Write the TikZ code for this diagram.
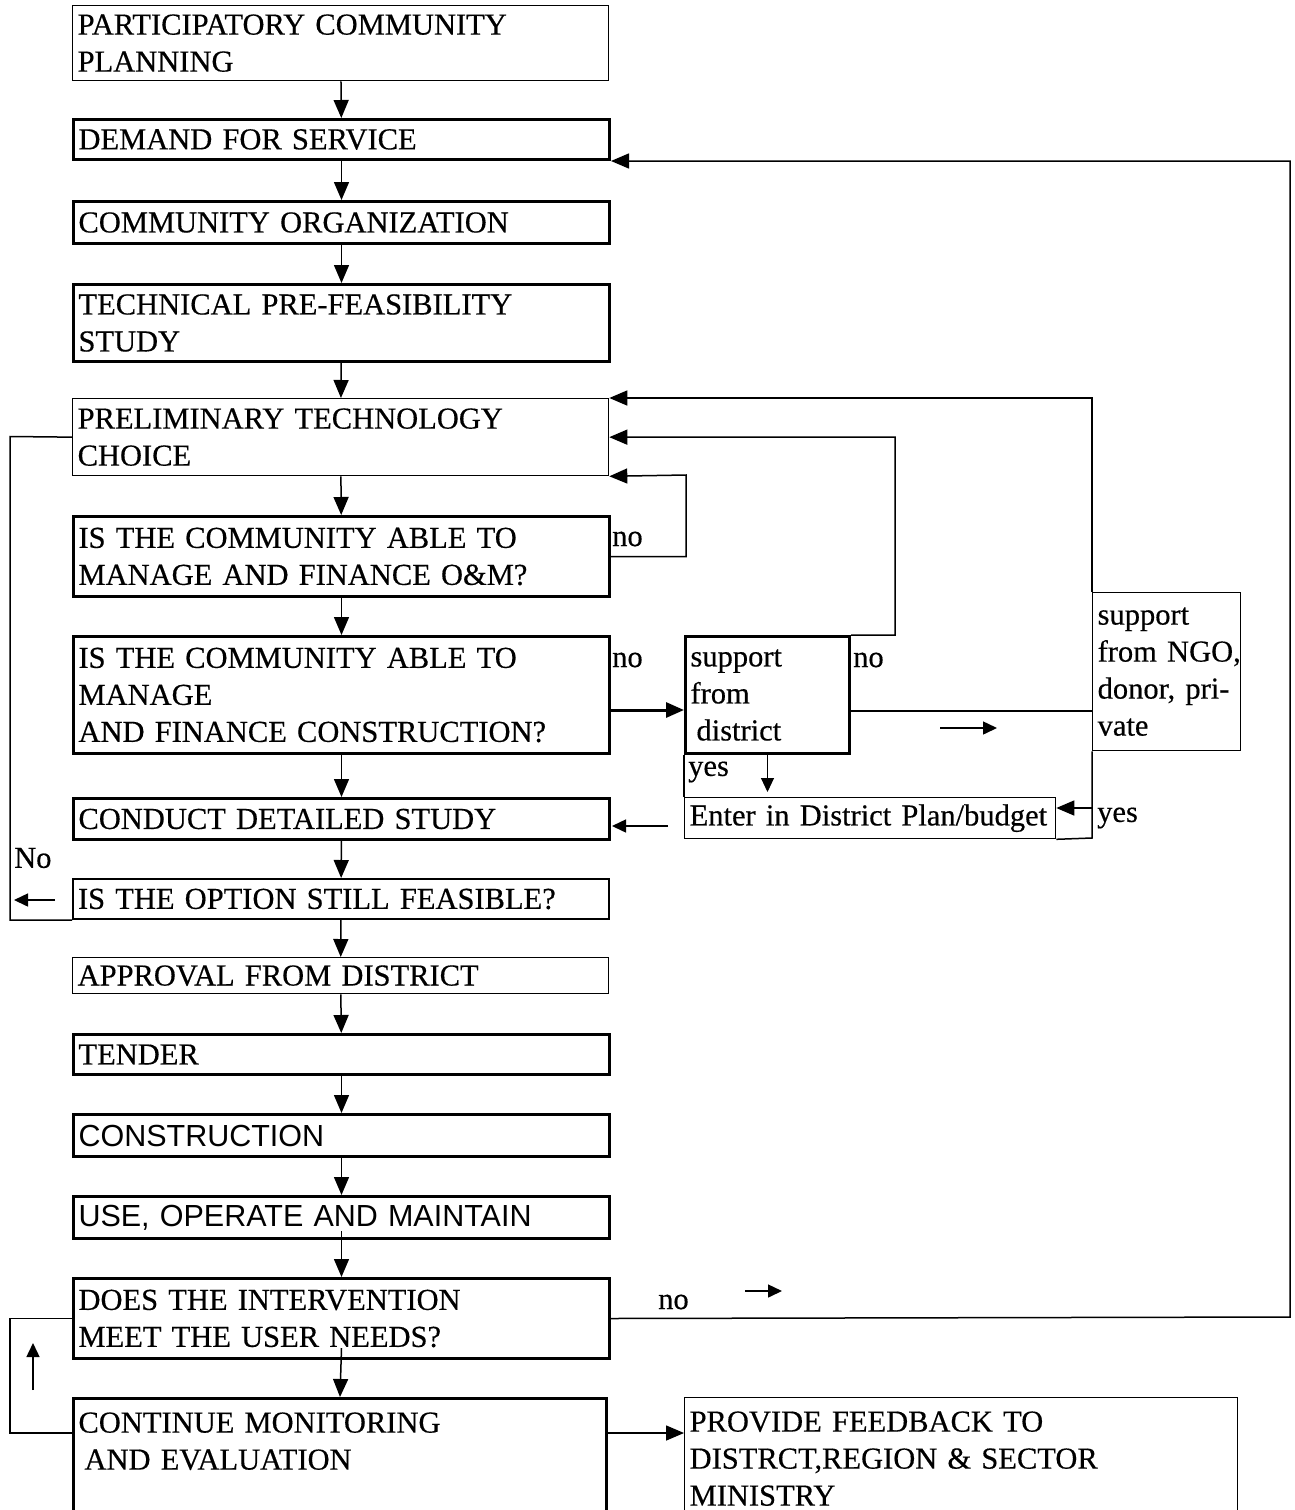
\documentclass[tikz,border=0pt]{standalone}
\usepackage{fontspec}
\setmainfont{Liberation Serif}[WordSpace=0.8,FakeBold=0.4]
\setsansfont{Liberation Sans}[WordSpace=0.85]
\usetikzlibrary{arrows.meta}
\newcommand\dgfont{\fontsize{30.5}{37}\selectfont}
\newcommand\dgsans{\sffamily\fontsize{30.5}{37}\selectfont}
\begin{document}
\begin{tikzpicture}[x=1pt,y=-1pt,
  mainbox/.style={draw, line width=3pt, anchor=north west, text width=526pt, inner xsep=5pt, inner ysep=0pt, align=left, font=\dgfont},
  lightbox/.style={mainbox, line width=1.3pt},
  lbl/.style={anchor=west, inner sep=0pt, font=\dgfont},
  wire/.style={line width=1.5pt},
  conn/.style={line width=1.5pt, -{Triangle[length=18pt,width=15pt]}},
  small/.style={line width=1.5pt, -{Triangle[length=14pt,width=13pt]}}
]
\useasboundingbox (0,0) rectangle (1294,1510);
\fill[white] (0,0) rectangle (1294,1510);

% main column
\node[lightbox, minimum height=75pt] (b1) at (72,5) {PARTICIPATORY COMMUNITY\\PLANNING};
\node[mainbox, minimum height=40pt] (b2) at (72,118) {DEMAND FOR SERVICE};
\node[mainbox, minimum height=42pt] (b3) at (72,200) {COMMUNITY ORGANIZATION};
\node[mainbox, minimum height=77pt] (b4) at (72,283) {TECHNICAL PRE-FEASIBILITY\\STUDY};
\node[lightbox, minimum height=77pt] (b5) at (72,398) {PRELIMINARY TECHNOLOGY\\CHOICE};
\node[mainbox, minimum height=80pt] (b6) at (72,515) {IS THE COMMUNITY ABLE TO\\MANAGE AND FINANCE O\&M?};
\node[mainbox, minimum height=117pt] (b7) at (72,635) {IS THE COMMUNITY ABLE TO\\MANAGE\\AND FINANCE CONSTRUCTION?};
\node[mainbox, minimum height=41pt] (b8) at (72,797) {CONDUCT DETAILED STUDY};
\node[mainbox, line width=2pt, minimum height=40pt] (b9) at (72,878) {IS THE OPTION STILL FEASIBLE?};
\node[lightbox, minimum height=36pt] (b10) at (72,957) {APPROVAL FROM DISTRICT};
\node[mainbox, minimum height=40pt] (b11) at (72,1033) {TENDER};
\node[mainbox, minimum height=42pt, font=\dgsans] (b12) at (72,1113) {CONSTRUCTION};
\node[mainbox, minimum height=42pt, font=\dgsans] (b13) at (72,1195) {USE, OPERATE AND MAINTAIN};
\node[mainbox, minimum height=80pt] (b14) at (72,1277) {DOES THE INTERVENTION\\MEET THE USER NEEDS?};
\node[mainbox, minimum height=122pt, text width=523pt] (b15) at (72,1397) {CONTINUE MONITORING\\\hspace{6pt}AND EVALUATION\\\mbox{}};

% side boxes
\node[mainbox, text width=154pt, minimum height=117pt] (dist) at (684,635) {support\\from\\\hspace{6pt}district};
\node[lightbox, text width=138pt, minimum height=158pt] (ngo) at (1092,592) {\mbox{support}\\\mbox{from NGO,}\\\mbox{donor, pri-}\\\mbox{vate}};
\node[lightbox, text width=361pt, minimum height=41pt] (enter) at (684,797) {Enter in District Plan/budget};
\node[lightbox, text width=543pt, minimum height=122pt] (fb) at (684,1397) {PROVIDE FEEDBACK TO\\DISTRCT,REGION \& SECTOR\\MINISTRY};

% labels
\node[lbl] (no1) at (612,539) {no};
\node[lbl] (no2) at (612,660) {no};
\node[lbl] (no3) at (853,660) {no};
\node[lbl] (no4) at (658,1302) {no};
\node[lbl] (yes1) at (688,772) {yes};
\node[lbl] (yes2) at (1097,818) {yes};
\node[lbl] (no5) at (14,858) {No};

% main flow
\draw[conn] (b1) -- (b2);
\draw[conn] (b2) -- (b3);
\draw[conn] (b3) -- (b4);
\draw[conn] (b4) -- (b5);
\draw[conn] (b5) -- (b6);
\draw[conn] (b6) -- (b7);
\draw[conn] (b7) -- (b8);
\draw[conn] (b8) -- (b9);
\draw[conn] (b9) -- (b10);
\draw[conn] (b10) -- (b11);
\draw[conn] (b11) -- (b12);
\draw[conn] (b12) -- (b13);
\draw[conn] ([yshift=9pt]b13.south) -- (b14.north);
\draw[conn] ([yshift=12pt]b14.south) -- (b15.north);

% loops into preliminary technology choice
\draw[conn] (b6.east) -| (686,475) -- (b5.south east);
\draw[conn, line width=3pt] (b7.east |- 0,710) -- (dist.west |- 0,710);
\draw[conn] (dist.north east) -- (895,635) -- (895,437) -- (b5.east);
\draw[wire] (dist.east |- 0,711) -- (ngo.west |- 0,711);
\draw[conn] (ngo.north west) -- (1092,398) -- (b5.north east);
\draw[wire] (ngo.south west) -- (1092,838) -- (enter.south east);
\draw[wire] (dist.south west) -- (enter.north west);
\draw[conn] (ngo.west |- 0,808) -- (enter.east |- 0,808);
\draw[small, line width=1pt] (dist.south) -- ([yshift=5pt]dist.south |- enter.north);

% left loops
\draw[wire] (b5.west) -- (10,436.5) |- (b9.south west);
\draw[wire] (b15.west |- 0,1433) -- (10,1433) |- (b14.west);
\draw[conn] (b15.east |- 0,1433) -- (fb.west |- 0,1433);
\draw[conn] (b14.east) -- (1290,1317) |- (b2.south east);

% free direction arrows
\coordinate (fa1s) at (940,728); \coordinate (fa1e) at (997,728);
\coordinate (fa2s) at (668,826); \coordinate (fa2e) at (612,826);
\coordinate (fa3s) at (55,900);  \coordinate (fa3e) at (14,900);
\coordinate (fa4s) at (33,1390); \coordinate (fa4e) at (33,1343);
\coordinate (fa5s) at (745,1291); \coordinate (fa5e) at (782,1291);
\draw[small] (fa1s) -- (fa1e);
\draw[small] (fa2s) -- (fa2e);
\draw[small] (fa3s) -- (fa3e);
\draw[small] (fa4s) -- (fa4e);
\draw[small] (fa5s) -- (fa5e);
\end{tikzpicture}
\end{document}
